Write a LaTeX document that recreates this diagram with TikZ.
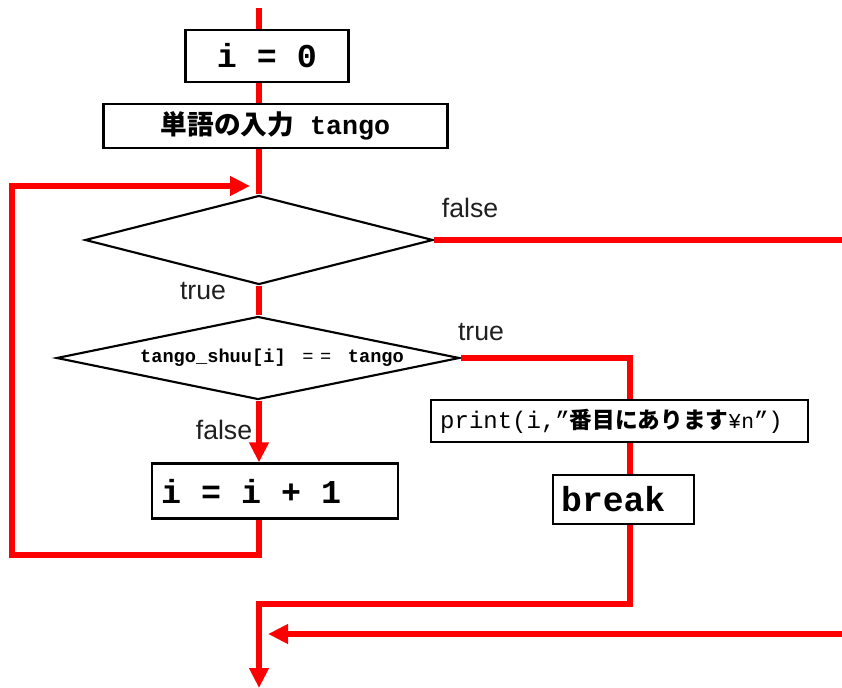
\documentclass[tikz,border=0pt]{standalone}
\usepackage{fontspec}
\setmainfont{Liberation Sans}
\setmonofont{Liberation Mono}
\newfontfamily\jp{Noto Sans CJK JP}
\usetikzlibrary{arrows.meta,shapes.geometric}
\begin{document}
\begin{tikzpicture}[x=0.75pt,y=-0.75pt,
  flow/.style={draw=red, line width=4.5pt},
  arr/.style={flow, -{Triangle[length=15pt,width=14pt]}},
  box/.style={draw=black, line width=1.6pt, rectangle, inner sep=0pt, fill=white},
  dia/.style={draw=black, line width=1.6pt, diamond, inner sep=0pt, fill=white},
  txt/.style={inner sep=0pt, anchor=west},
  lbl/.style={font=\fontsize{20}{24}\selectfont, text=black!88, inner sep=0pt}
]
\useasboundingbox (0,0) rectangle (842,688);

% coordinates of the main lines
\coordinate (top) at (259,8);
\coordinate (rx) at (630,0);
\coordinate (exit1) at (842,240);
\coordinate (lp1) at (12,555);
\coordinate (looptip) at (250,186);
\coordinate (join) at (259,604);
\coordinate (endp) at (259,688);
\coordinate (inR) at (842,634);
\coordinate (inTip) at (268,634);

% nodes
\node[box, minimum width=122.25pt, minimum height=39pt,
      font=\ttfamily\bfseries\fontsize{25}{28}\selectfont] (b1) at (267,56) {i = 0};
\node[box, minimum width=258pt, minimum height=33pt] (b2) at (275.5,126)
  {{\jp\bfseries\fontsize{20}{24}\selectfont 単語の入力}{\ttfamily\bfseries\fontsize{20}{24}\selectfont\ tango}};
\node[dia, minimum width=261pt, minimum height=66.75pt] (d1) at (259,240) {};
\node[dia, minimum width=302.25pt, minimum height=62.25pt] (d2) at (258,358) {};
\node[inner sep=0pt, font=\ttfamily\fontsize{14}{16}\selectfont] (d2t) at (272,358)
  {\textbf{tango\_shuu[i]}\kern4pt\ =\kern5pt=\ \kern4pt\textbf{tango}};

\node[box, minimum width=184.5pt, minimum height=41.25pt] (b3) at (275,491) {};
\node[txt, font=\ttfamily\bfseries\fontsize{25}{28}\selectfont] (b3t) at ([xshift=7.5pt]b3.west) {i = i + 1};

\node[box, minimum width=282.75pt, minimum height=31.5pt] (pr) at (619.5,421) {};
\node[txt, font=\ttfamily\fontsize{18}{21}\selectfont] (prt) at ([xshift=7.5pt]pr.west)
  {print(i,”{\jp\bfseries\fontsize{17}{20}\selectfont 番目にあります}{\fontsize{16}{18}\selectfont ¥n}”)};

\node[box, minimum width=105.75pt, minimum height=36.75pt] (bk) at (623.5,499.5) {};
\node[txt, font=\ttfamily\bfseries\fontsize{26}{29}\selectfont] (bkt) at ([xshift=6.75pt]bk.west) {break};

% labels
\node[lbl] (f1) at (470,208) {false};
\node[lbl] (t1) at (203,291) {true};
\node[lbl] (t2) at (481,332) {true};
\node[lbl] (f2) at (224,430) {false};

% connectors
\draw[flow] (top) -- (b1.north -| top);
\draw[flow] (b1.south -| top) -- (b2.north -| top);
\draw[flow] (b2.south -| top) -- (d1.north);
\draw[flow] (d1.east) -- (exit1);
\draw[flow] (d1.south) -- (d2.north -| top);
\draw[flow] (d2.east) -| (pr.north -| rx);
\draw[flow] (pr.south -| rx) -- (bk.north -| rx);
\draw[arr] (bk.south -| rx) |- (join) -- (endp);
\draw[arr] (d2.south -| top) -- (b3.north -| top);
\draw[arr] (b3.south -| top) |- (lp1) |- (looptip);
\draw[arr] (inR) -- (inTip);
\end{tikzpicture}
\end{document}
